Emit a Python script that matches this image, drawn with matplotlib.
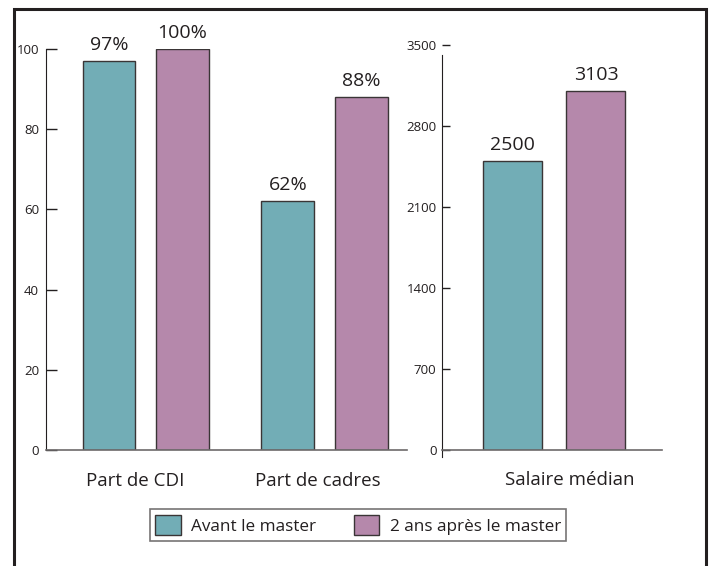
import matplotlib.pyplot as plt
from matplotlib.patches import Rectangle, Patch

plt.rcParams['font.family'] = ['Open Sans', 'DejaVu Sans']

groups_left = ["Part de CDI", "Part de cadres"]
avant_left = [97, 62]
apres_left = [100, 88]
labels_avant_left = ["97%", "62%"]
labels_apres_left = ["100%", "88%"]

groups_right = ["Salaire médian"]
avant_right = [2500]
apres_right = [3103]

series_names = ["Avant le master", "2 ans après le master"]
teal = "#72adb6"
purple = "#b588ab"
edge = "#3a3536"
txt = "#231f20"

W, H = 713, 566
fig = plt.figure(figsize=(W / 100, H / 100), dpi=100)


def px_axes(x0, y0, x1, y1):
    # pixel box (top-left origin) -> figure fraction
    return fig.add_axes([x0 / W, 1 - y1 / H, (x1 - x0) / W, (y1 - y0) / H])


# left panel: 0 at y=450px, 100 at y=49px
ax1 = px_axes(46, 49, 407, 450)
ax1.set_ylim(0, 100)
ax1.set_xlim(-0.557, 1.46)
bw, off = 0.296, 0.205
xs = list(range(len(groups_left)))
b1 = ax1.bar([x - off for x in xs], avant_left, bw, color=teal, edgecolor=edge, linewidth=1)
b2 = ax1.bar([x + off for x in xs], apres_left, bw, color=purple, edgecolor=edge, linewidth=1)
for bars, labs in ((b1, labels_avant_left), (b2, labels_apres_left)):
    for b, lab in zip(bars, labs):
        ax1.annotate(lab, (b.get_x() + b.get_width() / 2, b.get_height()),
                     xytext=(0, 5), textcoords="offset points", ha="center", va="bottom",
                     fontsize=14, color=txt)
ax1.set_yticks([0, 20, 40, 60, 80, 100])
ax1.tick_params(axis="y", direction="in", length=8, width=1, pad=5, labelsize=9.5,
                colors=txt)
ax1.set_xticks([xs[0] - 0.06, xs[1] - 0.04])
ax1.set_xticklabels(groups_left, fontsize=13.5, color=txt)
ax1.tick_params(axis="x", length=0, pad=16)
for s in ("top", "right"):
    ax1.spines[s].set_visible(False)
ax1.spines["left"].set_color(txt)
ax1.spines["bottom"].set_color("#6d6a6b")
ax1.spines["bottom"].set_linewidth(1.2)

# right panel: 0 at y=450px, 3500 at y=45px
ax2 = px_axes(442, 45, 662, 450)
ax2.set_ylim(0, 3500)
ax2.set_xlim(-0.627, 0.602)
bw2, off2 = 0.33, 0.233
r1 = ax2.bar([-off2], avant_right, bw2, color=teal, edgecolor=edge, linewidth=1)
r2 = ax2.bar([off2], apres_right, bw2, color=purple, edgecolor=edge, linewidth=1)
for b in list(r1) + list(r2):
    ax2.annotate(f"{b.get_height():.0f}", (b.get_x() + b.get_width() / 2, b.get_height()),
                 xytext=(0, 5), textcoords="offset points", ha="center", va="bottom",
                 fontsize=14, color=txt)
ax2.set_yticks([0, 700, 1400, 2100, 2800, 3500])
ax2.tick_params(axis="y", direction="in", length=6, width=1, pad=4, labelsize=9.5,
                colors=txt)
ax2.set_xticks([0.085])
ax2.set_xticklabels(groups_right, fontsize=13.5, color=txt)
ax2.tick_params(axis="x", length=0, pad=15)
for s in ("top", "right"):
    ax2.spines[s].set_visible(False)
ax2.spines["left"].set_bounds(-60, 3414)
ax2.spines["left"].set_color(txt)
ax2.spines["bottom"].set_color("#6d6a6b")
ax2.spines["bottom"].set_linewidth(1.2)

handles = [Patch(facecolor=teal, edgecolor=edge), Patch(facecolor=purple, edgecolor=edge)]
leg = fig.legend(handles, series_names, loc="center", bbox_to_anchor=(358 / W, 1 - 525 / H),
                 ncol=2, fontsize=12.3, frameon=True, fancybox=False, handlelength=1.5,
                 handleheight=1.5, columnspacing=2.2, handletextpad=0.6, borderpad=0.3)
leg.get_frame().set_edgecolor("#555152")
leg.get_frame().set_linewidth(1.2)
for t in leg.get_texts():
    t.set_color(txt)

# outer frame, open at the bottom
fig.add_artist(Rectangle((13.5 / W, -0.05), (706 - 13.5) / W, 1.05 - 9.5 / H,
                         transform=fig.transFigure, fill=False, edgecolor=txt, linewidth=2.2))

fig.savefig("out.png", dpi=100)
